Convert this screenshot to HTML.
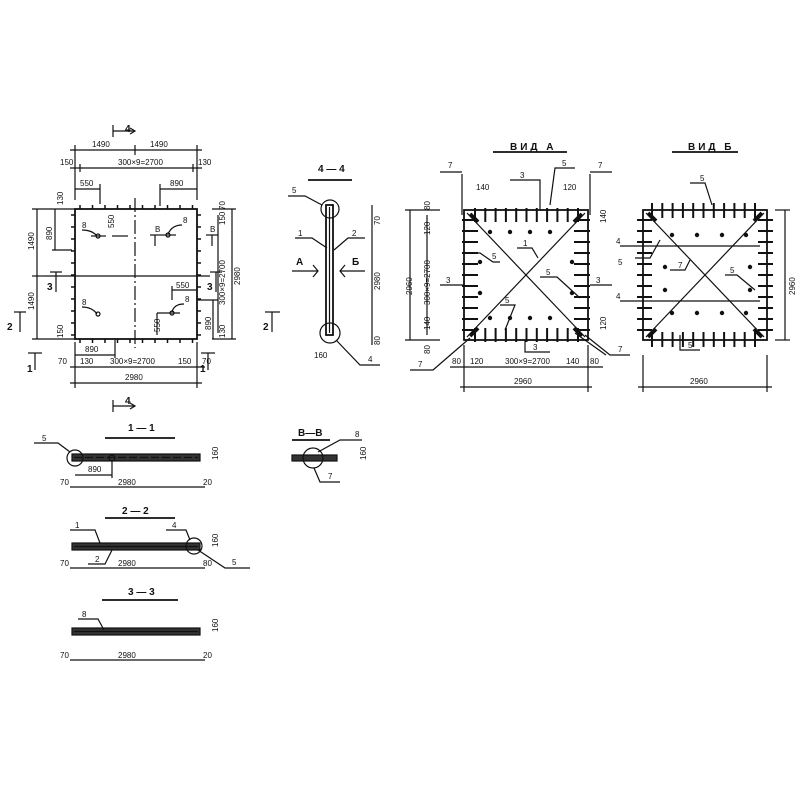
<!DOCTYPE html>
<html><head><meta charset="utf-8"><style>
html,body{margin:0;padding:0;background:#fff}
svg{display:block}
text{font-family:"Liberation Sans","DejaVu Sans",sans-serif;font-size:8px;fill:#111}
.t{font-size:10px;font-weight:bold}
line,path,rect,circle,polyline{stroke:#111;fill:none}
rect.f{fill:#333}
</style></head><body>
<svg id="s" width="800" height="800" viewBox="0 0 800 800" xmlns="http://www.w3.org/2000/svg" stroke-width="1.2">
<!-- ===== PLAN ===== -->
<rect x="75" y="209" width="122" height="130" stroke-width="1.8"/>
<line x1="135" y1="198" x2="135" y2="348" stroke-dasharray="14,3,2,3"/>
<line x1="45" y1="276" x2="210" y2="276"/>
<line x1="70" y1="150" x2="202" y2="150"/><line x1="75" y1="145" x2="75" y2="200"/><line x1="197" y1="145" x2="197" y2="200"/><line x1="135" y1="145" x2="135" y2="155"/>
<text x="92" y="147">1490</text><text x="150" y="147">1490</text>
<line x1="70" y1="168" x2="202" y2="168"/><line x1="80" y1="164" x2="80" y2="172"/><line x1="193" y1="164" x2="193" y2="172"/>
<text x="60" y="165">150</text><text x="118" y="165">300×9=2700</text><text x="198" y="165">130</text>
<line x1="75" y1="189" x2="100" y2="189"/><line x1="100" y1="184" x2="100" y2="204"/><text x="80" y="186">550</text>
<line x1="160" y1="189" x2="197" y2="189"/><line x1="160" y1="184" x2="160" y2="206"/><text x="170" y="186">890</text>
<line x1="37" y1="209" x2="37" y2="339"/><line x1="32" y1="209" x2="75" y2="209"/><line x1="32" y1="276" x2="45" y2="276"/><line x1="32" y1="339" x2="75" y2="339"/>
<text transform="translate(34,250) rotate(-90)">1490</text><text transform="translate(34,310) rotate(-90)">1490</text>
<line x1="55" y1="209" x2="55" y2="250"/><line x1="52" y1="250" x2="72" y2="250"/><text transform="translate(52,240) rotate(-90)">890</text>
<text transform="translate(63,205) rotate(-90)">130</text>
<text transform="translate(63,338) rotate(-90)">150</text>
<line x1="232" y1="209" x2="232" y2="339"/><line x1="212" y1="209" x2="236" y2="209"/><line x1="212" y1="339" x2="236" y2="339"/>
<text transform="translate(240,285) rotate(-90)">2980</text>
<line x1="218" y1="215" x2="218" y2="333"/><text transform="translate(225,305) rotate(-90)">300×9=2700</text>
<text transform="translate(225,225) rotate(-90)">150</text><text transform="translate(225,210) rotate(-90)">70</text>
<line x1="213" y1="300" x2="213" y2="339"/><line x1="198" y1="300" x2="218" y2="300"/><text transform="translate(211,330) rotate(-90)">890</text>
<text transform="translate(225,338) rotate(-90)">130</text>
<line x1="75" y1="355" x2="115" y2="355"/><line x1="115" y1="340" x2="115" y2="358"/><text x="85" y="352">890</text>
<line x1="70" y1="367" x2="205" y2="367"/><text x="58" y="364">70</text><text x="80" y="364">130</text><text x="110" y="364">300×9=2700</text><text x="178" y="364">150</text><text x="202" y="364">70</text>
<line x1="70" y1="383" x2="202" y2="383"/><line x1="75" y1="342" x2="75" y2="388"/><line x1="197" y1="342" x2="197" y2="388"/><text x="125" y="380">2980</text>
<text x="82" y="228">8</text><path d="M82 230 Q92 230 97 236"/><circle cx="98" cy="236" r="2"/><line x1="91" y1="236" x2="106" y2="236"/>
<text x="114" y="228" transform="rotate(-90,114,228)">550</text><line x1="112" y1="236" x2="128" y2="236"/>
<text x="183" y="223">8</text><path d="M182 225 Q172 225 168 234"/><circle cx="168" cy="235" r="2"/><line x1="160" y1="235" x2="176" y2="235"/>
<text x="155" y="232">В</text><line x1="150" y1="235" x2="160" y2="235"/><line x1="155" y1="235" x2="155" y2="246"/>
<text x="210" y="232">В</text><line x1="206" y1="235" x2="218" y2="235"/><line x1="212" y1="235" x2="212" y2="246"/>
<text x="82" y="305">8</text><path d="M82 307 Q92 307 97 314"/><circle cx="98" cy="314" r="2"/>
<text x="185" y="302">8</text><path d="M184 304 Q174 304 172 312"/><circle cx="172" cy="313" r="2"/><line x1="157" y1="313" x2="180" y2="313"/><line x1="157" y1="313" x2="157" y2="335"/>
<text transform="translate(160,332) rotate(-90)">550</text>
<line x1="172" y1="290" x2="197" y2="290"/><line x1="172" y1="286" x2="172" y2="300"/><text x="176" y="288">550</text>
<text x="125" y="132" class="t">4</text><line x1="113" y1="125" x2="113" y2="137"/><line x1="113" y1="131" x2="135" y2="131"/><path d="M130 128 L135 131 L130 134"/>
<text x="125" y="404" class="t">4</text><line x1="113" y1="400" x2="113" y2="412"/><line x1="113" y1="406" x2="135" y2="406"/><path d="M130 403 L135 406 L130 409"/>
<line x1="28" y1="353" x2="42" y2="353"/><line x1="35" y1="353" x2="35" y2="370"/><text x="27" y="372" class="t">1</text>
<line x1="201" y1="353" x2="215" y2="353"/><line x1="208" y1="353" x2="208" y2="370"/><text x="200" y="372" class="t">1</text>
<line x1="56" y1="272" x2="56" y2="292"/><line x1="50" y1="272" x2="62" y2="272"/><text x="47" y="290" class="t">3</text>
<line x1="216" y1="272" x2="216" y2="292"/><line x1="210" y1="272" x2="222" y2="272"/><text x="207" y="290" class="t">3</text>
<line x1="265" y1="312" x2="280" y2="312"/><line x1="272" y1="312" x2="272" y2="332"/><text x="263" y="330" class="t">2</text>
<line x1="14" y1="312" x2="26" y2="312"/><line x1="20" y1="312" x2="20" y2="332"/><text x="7" y="330" class="t">2</text>
<g id="plan"></g>

<!-- ===== 4-4 ===== -->
<text x="318" y="172" class="t">4 — 4</text><line x1="308" y1="180" x2="352" y2="180" stroke-width="1.8"/>
<rect x="326" y="205" width="7" height="130" stroke-width="1.8"/><line x1="329.5" y1="207" x2="329.5" y2="333"/>
<circle cx="330" cy="209" r="9"/><circle cx="330" cy="333" r="10"/>
<text x="292" y="193">5</text><path d="M288 196 L305 196 L322 205"/>
<text x="298" y="236">1</text><path d="M295 238 L312 238 L327 248"/>
<text x="352" y="236">2</text><path d="M365 238 L348 238 L334 250"/>
<text x="296" y="265" class="t">А</text><line x1="292" y1="271" x2="318" y2="271"/><path d="M313 265 L318 271 L313 277"/>
<text x="352" y="265" class="t">Б</text><line x1="340" y1="271" x2="365" y2="271"/><path d="M345 265 L340 271 L345 277"/>
<line x1="372" y1="205" x2="372" y2="345"/><text transform="translate(380,225) rotate(-90)">70</text>
<text transform="translate(380,290) rotate(-90)">2980</text><text transform="translate(380,345) rotate(-90)">80</text>
<text x="314" y="358">160</text><path d="M336 340 L360 365 L380 365"/><text x="368" y="362">4</text>

<!-- ===== ВИД А ===== -->
<text x="510" y="150" class="t" letter-spacing="3">ВИД А</text><line x1="493" y1="152" x2="567" y2="152" stroke-width="1.8"/>
<rect x="464" y="210" width="124" height="130" stroke-width="1.8"/>
<line x1="467" y1="213" x2="585" y2="337"/><line x1="467" y1="337" x2="585" y2="213"/>
<line x1="462" y1="174" x2="462" y2="215"/><line x1="440" y1="172" x2="462" y2="172"/><text x="448" y="168">7</text>
<line x1="590" y1="174" x2="590" y2="215"/><line x1="590" y1="172" x2="612" y2="172"/><text x="598" y="168">7</text>
<text x="476" y="190">140</text><text x="563" y="190">120</text>
<path d="M510 180 L540 180 L540 210"/><text x="520" y="178">3</text>
<path d="M575 168 L555 168 L550 205"/><text x="562" y="166">5</text>
<path d="M462 253 L480 253 L493 262 L500 262"/><text x="492" y="259">5</text>
<text x="523" y="246">1</text><path d="M517 248 L532 248 L538 258"/>
<path d="M440 285 L464 285"/><text x="446" y="283">3</text>
<path d="M590 285 L612 285"/><text x="596" y="283">3</text>
<path d="M540 277 L557 277 L580 298"/><text x="546" y="275">5</text>
<path d="M500 305 L515 305 L505 330"/><text x="505" y="303">5</text>
<path d="M525 340 L525 352 L550 352"/><text x="533" y="350">3</text>
<path d="M410 370 L433 370 L470 338"/><text x="418" y="367">7</text>
<path d="M585 335 L610 355 L630 355"/><path d="M575 333 L606 355"/><text x="618" y="352">7</text>
<line x1="410" y1="210" x2="410" y2="340"/><line x1="405" y1="210" x2="440" y2="210"/><line x1="405" y1="340" x2="440" y2="340"/>
<text transform="translate(412,295) rotate(-90)">2960</text>
<line x1="427" y1="215" x2="427" y2="335"/><text transform="translate(430,305) rotate(-90)">300×9=2700</text>
<text transform="translate(430,210) rotate(-90)">80</text><text transform="translate(430,235) rotate(-90)">120</text>
<text transform="translate(430,330) rotate(-90)">140</text><text transform="translate(430,354) rotate(-90)">80</text>
<text transform="translate(606,223) rotate(-90)">140</text><text transform="translate(606,330) rotate(-90)">120</text>
<line x1="450" y1="367" x2="603" y2="367"/><text x="452" y="364">80</text><text x="470" y="364">120</text><text x="505" y="364">300×9=2700</text><text x="566" y="364">140</text><text x="590" y="364">80</text>
<line x1="464" y1="345" x2="464" y2="392"/><line x1="588" y1="345" x2="588" y2="392"/>
<line x1="460" y1="387" x2="592" y2="387"/><text x="514" y="384">2960</text>
<g id="va"></g>

<!-- ===== ВИД Б ===== -->
<text x="688" y="150" class="t" letter-spacing="3">ВИД Б</text><line x1="672" y1="152" x2="738" y2="152" stroke-width="1.8"/>
<rect x="643" y="210" width="124" height="130" stroke-width="1.8"/>
<line x1="646" y1="213" x2="764" y2="337"/><line x1="646" y1="337" x2="764" y2="213"/>
<line x1="620" y1="246" x2="760" y2="246"/><line x1="620" y1="301" x2="760" y2="301"/>
<text x="616" y="244">4</text><text x="616" y="299">4</text>
<path d="M690 183 L705 183 L712 205"/><text x="700" y="181">5</text>
<path d="M635 258 L650 258 L660 240"/><text x="618" y="265">5</text>
<path d="M670 270 L685 270 L690 260"/><text x="678" y="268">7</text>
<path d="M725 275 L737 275 L755 290"/><text x="730" y="273">5</text>
<path d="M680 335 L680 350 L700 350"/><text x="688" y="348">5</text>
<line x1="775" y1="210" x2="790" y2="210"/><line x1="775" y1="340" x2="790" y2="340"/><line x1="785" y1="210" x2="785" y2="340"/>
<text transform="translate(795,295) rotate(-90)">2960</text>
<line x1="643" y1="355" x2="643" y2="392"/><line x1="767" y1="355" x2="767" y2="392"/>
<line x1="638" y1="387" x2="772" y2="387"/><text x="690" y="384">2960</text>
<g id="vb"></g>

<!-- ===== 1-1 ===== -->
<text x="128" y="431" class="t">1 — 1</text><line x1="105" y1="438" x2="175" y2="438" stroke-width="1.8"/>
<rect class="f" x="72" y="454" width="128" height="7"/><line x1="74" y1="457.5" x2="198" y2="457.5" stroke="#bbb" stroke-dasharray="8,3"/>
<circle cx="75" cy="458" r="8"/><circle cx="112" cy="458" r="3"/>
<text x="42" y="441">5</text><path d="M34 443 L58 443 L70 452"/>
<line x1="75" y1="475" x2="112" y2="475"/><line x1="112" y1="460" x2="112" y2="478"/><text x="88" y="472">890</text>
<line x1="70" y1="487" x2="205" y2="487"/><text x="60" y="485">70</text><text x="118" y="485">2980</text><text x="203" y="485">20</text>
<text transform="translate(218,460) rotate(-90)">160</text>
<!-- В-В -->
<text x="298" y="436" class="t">В—В</text><line x1="292" y1="440" x2="330" y2="440" stroke-width="1.8"/>
<rect class="f" x="292" y="455" width="45" height="6"/><circle cx="313" cy="458" r="10"/>
<text x="355" y="437">8</text><path d="M362 440 L340 440 L318 452"/>
<path d="M314 468 L320 482 L340 482"/><text x="328" y="479">7</text>
<text transform="translate(366,460) rotate(-90)">160</text>
<!-- 2-2 -->
<text x="122" y="514" class="t">2 — 2</text><line x1="105" y1="518" x2="175" y2="518" stroke-width="1.8"/>
<rect class="f" x="72" y="543" width="128" height="7"/><line x1="74" y1="546.5" x2="198" y2="546.5" stroke="#bbb"/><circle cx="194" cy="546" r="8"/>
<text x="75" y="528">1</text><path d="M70 530 L95 530 L100 543"/>
<text x="95" y="562">2</text><path d="M88 564 L105 564 L112 550"/>
<text x="172" y="528">4</text><path d="M166 530 L186 530 L190 540"/>
<path d="M198 550 L225 568 L250 568"/><text x="232" y="565">5</text>
<line x1="70" y1="568" x2="205" y2="568"/><text x="60" y="566">70</text><text x="118" y="566">2980</text><text x="203" y="566">80</text>
<text transform="translate(218,547) rotate(-90)">160</text>
<!-- 3-3 -->
<text x="128" y="595" class="t">3 — 3</text><line x1="102" y1="600" x2="178" y2="600" stroke-width="1.8"/>
<rect class="f" x="72" y="628" width="128" height="7"/><line x1="74" y1="631.5" x2="198" y2="631.5" stroke="#bbb"/>
<text x="82" y="617">8</text><path d="M78 619 L98 619 L104 630"/>
<line x1="70" y1="660" x2="205" y2="660"/><text x="60" y="658">70</text><text x="118" y="658">2980</text><text x="203" y="658">20</text>
<text transform="translate(218,632) rotate(-90)">160</text>
</svg>
<script>
var NS="http://www.w3.org/2000/svg";
function L(g,x1,y1,x2,y2,w){var l=document.createElementNS(NS,"line");l.setAttribute("x1",x1);l.setAttribute("y1",y1);l.setAttribute("x2",x2);l.setAttribute("y2",y2);if(w)l.setAttribute("stroke-width",w);g.appendChild(l);}
function C(g,x,y){var c=document.createElementNS(NS,"circle");c.setAttribute("cx",x);c.setAttribute("cy",y);c.setAttribute("r",1.6);c.setAttribute("style","fill:#111");g.appendChild(c);}
var p=document.getElementById("plan");
for(var i=0;i<10;i++){var x=80+i*12.5;L(p,x,205,x,209,1.5);L(p,x,339,x,343,1.5);}
for(var i=0;i<11;i++){var y=215+i*12;L(p,71,y,75,y,1.5);L(p,197,y,201,y,1.5);}
var a=document.getElementById("va");
for(var i=0;i<11;i++){var x=475+i*10.3;L(a,x,208,x,222,2);L(a,x,328,x,342,2);}
for(var i=0;i<11;i++){var y=220+i*11;L(a,462,y,478,y,2);L(a,574,y,590,y,2);}
[[490,232],[510,232],[530,232],[550,232],[480,262],[572,262],[480,293],[572,293],[490,318],[510,318],[530,318],[550,318]].forEach(function(q){C(a,q[0],q[1]);});
[[470,214,478,222],[582,214,574,222],[470,336,478,328],[582,336,574,328]].forEach(function(q){L(a,q[0],q[1],q[2],q[3],4);});
var b=document.getElementById("vb");
for(var i=0;i<11;i++){var x=652+i*10.3;L(b,x,203,x,218,2);L(b,x,332,x,347,2);}
for(var i=0;i<11;i++){var y=220+i*11;L(b,637,y,652,y,2);L(b,758,y,773,y,2);}
[[672,235],[697,235],[722,235],[746,235],[665,267],[750,267],[665,290],[750,290],[672,313],[697,313],[722,313],[746,313]].forEach(function(q){C(b,q[0],q[1]);});
[[648,213,656,221],[762,213,754,221],[648,337,656,329],[762,337,754,329]].forEach(function(q){L(b,q[0],q[1],q[2],q[3],4);});
</script>
</body></html>
